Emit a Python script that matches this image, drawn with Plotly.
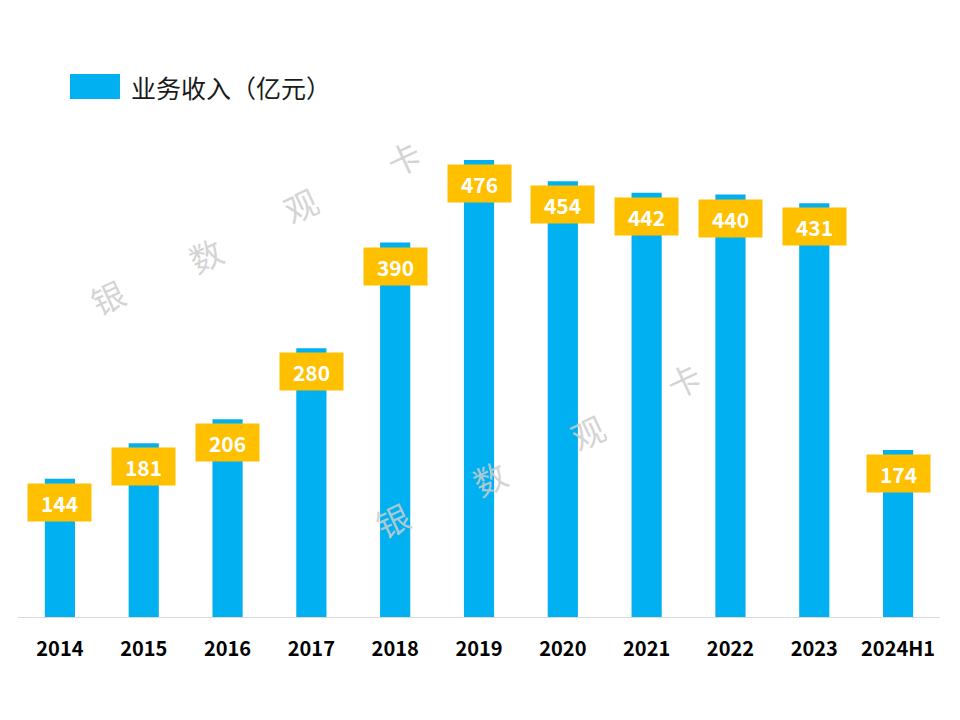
import plotly.graph_objects as go

categories = ["2014", "2015", "2016", "2017", "2018", "2019", "2020", "2021", "2022", "2023", "2024H1"]
revenue = [144, 181, 206, 280, 390, 476, 454, 442, 440, 431, 174]
series_name = "业务收入（亿元）"
watermark_chars = ["银", "数", "观", "卡"]

BAR_COLOR = "#00B0F0"
LABEL_BG = "#FFC000"
FONT = "Noto Sans CJK SC"

OFF = 8  # page body margin
W, H = 960 - OFF, 720 - OFF
ML, MR, MT, MB = 18 - OFF, 20, 100 - OFF, 103
plot_w = W - ML - MR
plot_h = H - MT - MB


def px2paper(px, py):
    return (px - OFF - ML) / plot_w, (H - MB - (py - OFF)) / plot_h


fig = go.Figure()
fig.add_trace(go.Bar(
    x=categories, y=revenue, name=series_name,
    marker=dict(color=BAR_COLOR, line=dict(width=0)),
    showlegend=False,
))

# value labels in gold boxes (x given as category index)
for i, v in enumerate(revenue):
    fig.add_annotation(
        x=i, y=v, xref="x", yref="y", text=f"<b>{v}</b>",
        showarrow=False, yanchor="top", xanchor="center", yshift=-4,
        width=63, height=37, bgcolor=LABEL_BG, borderpad=0,
        font=dict(family=FONT, size=21, color="white"),
    )

# watermark
wm_pos = [
    [(107, 297), (205, 255), (300, 205), (403, 158)],
    [(392, 520), (489, 478), (587, 432), (683, 380)],
]
for row in wm_pos:
    for ch, (px, py) in zip(watermark_chars, row):
        ax_, ay_ = px2paper(px, py)
        fig.add_annotation(
            x=ax_, y=ay_, xref="paper", yref="paper", text=ch, showarrow=False,
            textangle=-25, font=dict(family=FONT, size=33, color="rgba(205,205,205,0.85)"),
            xanchor="center", yanchor="middle",
        )

# legend (manual)
lx0, ly0 = px2paper(70, 99)
lx1, ly1 = px2paper(120, 74)
fig.add_shape(type="rect", xref="paper", yref="paper",
              x0=lx0, x1=lx1, y0=ly0, y1=ly1,
              fillcolor=BAR_COLOR, line=dict(width=0))
tx, ty = px2paper(129, 87)
fig.add_annotation(x=tx, y=ty, xref="paper", yref="paper", text=series_name, showarrow=False,
                   xanchor="left", yanchor="middle",
                   font=dict(family=FONT, size=25, color="#1a1a1a"))

fig.update_layout(
    width=W, height=H,
    margin=dict(l=ML, r=MR, t=MT, b=MB, autoexpand=False),
    plot_bgcolor="white", paper_bgcolor="white",
    bargap=0.64,
    font=dict(family=FONT),
    xaxis=dict(
        type="category", automargin=False, range=[-0.5, len(categories) - 0.5],
        showgrid=False, showline=True, linecolor="#d9d9d9", linewidth=1,
        ticks="", tickfont=dict(family=FONT, size=20, color="black", weight="bold"),
        ticklabelstandoff=14,
    ),
    yaxis=dict(range=[0, plot_h / 0.96], visible=False, showgrid=False, zeroline=False,
               automargin=False),
)

fig.write_html("out.html")
